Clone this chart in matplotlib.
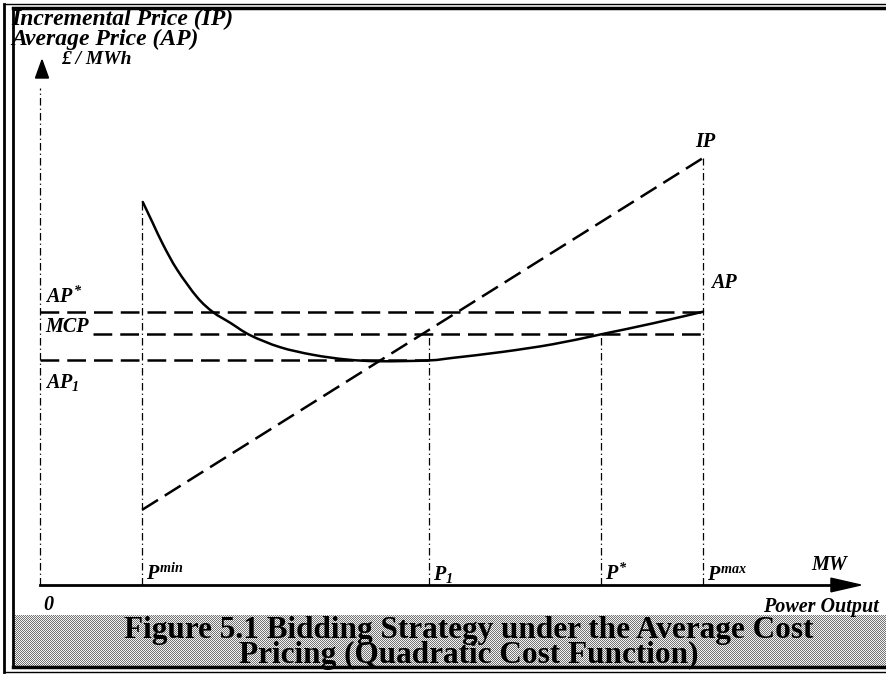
import numpy as np
import matplotlib
matplotlib.use("Agg")
import matplotlib.pyplot as plt
from matplotlib.patches import Polygon, PathPatch
from matplotlib.path import Path

plt.rcParams['font.family'] = ['Liberation Serif', 'DejaVu Serif']
plt.rcParams['mathtext.fontset'] = 'custom'
plt.rcParams['mathtext.rm'] = 'Liberation Serif:bold:italic'
plt.rcParams['mathtext.it'] = 'Liberation Serif:bold:italic'
plt.rcParams['mathtext.bf'] = 'Liberation Serif:bold:italic'

# Output levels (MW, schematic units)
p_min = 15.4
p_1 = 58.7
p_star = 84.6
p_max = 100.0

# Price levels (£/MWh, schematic units)
ap_star = 64.0
mcp = 58.7
ap_1 = 52.6

# Incremental price line end points
ip_x = [p_min, p_max]
ip_y = [17.6, 100.0]

# Average price curve
ap_x = [15.5, 17.0, 18.6, 20.7, 23.7, 26.1, 28.7, 31.7, 36.2, 41.2, 46.3,
        51.3, 58.7, 62.3, 69.8, 77.4, 84.6, 92.5, 100.0]
ap_y = [89.7, 84.8, 79.6, 73.8, 67.4, 63.9, 61.4, 58.5, 55.7, 53.9, 52.8,
        52.4, 52.6, 53.2, 54.6, 56.4, 58.7, 61.3, 64.0]


def smooth_path(xs, ys):
    """Catmull-Rom spline through the points, as cubic Bezier segments."""
    pts = np.column_stack([xs, ys]).astype(float)
    ext = np.vstack([pts[0], pts, pts[-1]])
    verts = [pts[0]]
    codes = [Path.MOVETO]
    for i in range(1, len(ext) - 2):
        p0, p1, p2, p3 = ext[i - 1], ext[i], ext[i + 1], ext[i + 2]
        verts += [p1 + (p2 - p0) / 6.0, p2 - (p3 - p1) / 6.0, p2]
        codes += [Path.CURVE4] * 3
    return Path(verts, codes)


W, H = 886, 676
fig = plt.figure(figsize=(W / 100, H / 100), dpi=100)

# ---- decoration layer in pixel coordinates (frame and caption panel) ----
deco = fig.add_axes([0, 0, 1, 1], zorder=0)
deco.set_xlim(0, W)
deco.set_ylim(H, 0)
deco.axis('off')

cap_top, cap_bot, cap_left = 615, 666, 15
ii, jj = np.mgrid[0:cap_bot - cap_top, 0:W - cap_left]
pattern = np.where((ii + jj) % 2 == 0, 0.45, 0.95)
deco.imshow(pattern, cmap='gray', vmin=0, vmax=1, interpolation='nearest',
            extent=(cap_left, W, cap_bot, cap_top), aspect='auto')

# double frame
deco.plot([4, 4], [4, 672], color='black', lw=2.0)
deco.plot([13, 13], [8, 667], color='black', lw=2.0)
deco.plot([4, W], [4, 4], color='black', lw=1.0)
deco.plot([13, W], [8, 8], color='black', lw=2.5)
deco.plot([13, W], [667, 667], color='black', lw=2.5)
deco.plot([4, W], [672, 672], color='black', lw=1.0)

head = dict(fontsize=17, fontweight='bold', style='italic',
            ha='left', va='center')
deco.text(11, 19, 'Incremental Price (IP)', **head)
deco.text(11, 39, 'Average Price (AP)', **head)
deco.text(61, 59, '£ / MWh', fontsize=14, fontweight='bold',
          style='italic', ha='left', va='center')
deco.add_patch(Polygon([[35.5, 78], [48.5, 78], [42, 60]], closed=True,
                       color='black'))

deco.text(469, 643, 'Figure 5.1 Bidding Strategy under the Average Cost\n'
          'Pricing (Quadratic Cost Function)',
          fontsize=22.5, fontweight='bold', ha='center', va='center',
          multialignment='center', linespacing=0.84)

# ---- chart layer in data coordinates ----
sx = (703 - 40) / 100.0   # px per MW
sy = (585 - 158) / 100.0  # px per £/MWh
x0_px, y0_px = 40, 585
xmax, ymax = 127.0, 125.0
ax = fig.add_axes([x0_px / W, (H - y0_px) / H, xmax * sx / W, ymax * sy / H],
                  zorder=1)
ax.patch.set_alpha(0)
ax.set_xlim(0, xmax)
ax.set_ylim(0, ymax)
ax.axis('off')

dash = dict(color='black', lw=1.8, linestyle=(0, (7.5, 3.2)))
thin = dict(color='black', lw=0.9, linestyle=(0, (6, 2.5, 1, 2.5)))

# axes
ax.plot([0, 0], [0, 116.5], clip_on=False, **thin)
ax.plot([0, 120.0], [0, 0], color='black', lw=2.0, clip_on=False)
ax.add_patch(Polygon([[119.3, -1.6], [119.3, 1.6], [123.8, 0.0]],
                     closed=True, color='black', clip_on=False))

# vertical guide lines
ax.plot([p_min, p_min], [0, ap_y[0]], **thin)
ax.plot([p_1, p_1], [0, mcp], **thin)
ax.plot([p_star, p_star], [0, mcp], **thin)
ax.plot([p_max, p_max], [0, ip_y[1]], **thin)

# horizontal price levels
ax.plot([0, p_max], [ap_star, ap_star], **dash)
ax.plot([8.0, p_max + 0.8], [mcp, mcp], **dash)
ax.plot([0, p_1], [ap_1, ap_1], **dash)

# incremental price and average price
ax.plot(ip_x, ip_y, **dash)
ax.add_patch(PathPatch(smooth_path(ap_x, ap_y), facecolor='none',
                       edgecolor='black', lw=1.8, capstyle='round'))

lab = dict(fontsize=14.5, fontweight='bold', style='italic')
ax.text(0.8, 67.3, '$AP^{*}$', ha='left', va='center', **lab)
ax.text(0.8, mcp + 0.5, 'MCP', ha='left', va='baseline', **lab)
ax.text(0.8, 47.5, '$AP_{1}$', ha='left', va='center', **lab)
ax.text(p_max + 0.3, 103.8, 'IP', ha='center', va='center', **lab)
ax.text(p_max + 1.2, 70.7, 'AP', ha='left', va='center', **lab)

ax.text(p_min + 0.6, 1.1, '$P^{min}$', ha='left', va='baseline', **lab)
ax.text(p_1 + 0.6, 1.1, '$P_{1}$', ha='left', va='baseline', **lab)
ax.text(p_star + 0.6, 1.1, '$P^{*}$', ha='left', va='baseline', **lab)
ax.text(p_max + 0.6, 1.1, '$P^{max}$', ha='left', va='baseline', **lab)
ax.text(119.0, 4.8, 'MW', ha='center', va='center', **lab)

ax.text(0.5, -4.8, '0', ha='left', va='center', **lab)
ax.text(126.5, -5.2, 'Power Output', ha='right', va='center', **lab)

fig.savefig('out.png', dpi=100)
